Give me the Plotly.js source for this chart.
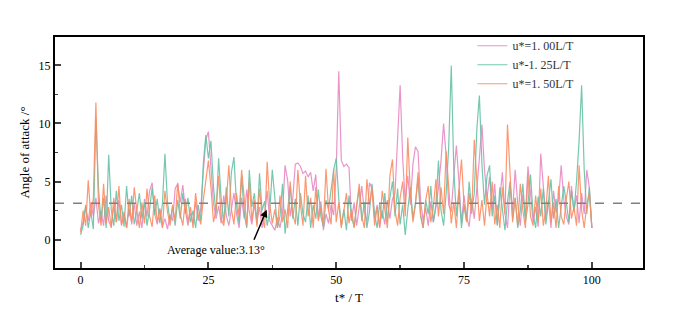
<!DOCTYPE html>
<html>
<head>
<meta charset="utf-8">
<script src="https://cdn.plot.ly/plotly-3.0.1.min.js"></script>
<style>
  html, body { margin: 0; padding: 0; background: #fff; }
  #chart { width: 692px; height: 321px; }
</style>
</head>
<body>
<div id="chart"></div>
<script>
const seriesNames = ["u*=1. 00L/T", "u*-1. 25L/T", "u*=1. 50L/T"];
const seriesColors = ["#e78ac3", "#66c2a5", "#fc8d62"];
const tStart = 0;
const tStep = 0.5;

const angleU100 = [
  0.8, 1.5, 2.8, 1.6, 3.2, 2.0, 3.6, 1.4, 2.5, 1.2, 3.8, 1.6, 1.1, 2.9, 1.5, 3.4, 1.3, 2.2, 1.0, 2.6,
  1.5, 3.1, 1.2, 2.4, 1.0, 3.5, 2.0, 4.2, 4.9, 2.2, 1.3, 2.7, 1.1, 1.8, 0.9, 2.1, 1.6, 4.4, 4.8, 3.2,
  4.7, 2.5, 1.2, 2.3, 1.4, 3.3, 1.6, 2.6, 5.8, 8.6, 9.3, 6.2, 3.1, 1.8, 2.9, 1.4, 3.8, 2.1, 1.2, 2.6,
  4.0, 2.2, 1.0, 3.6, 1.8, 4.3, 2.4, 1.3, 3.1, 1.6, 2.8, 1.0, 2.2, 4.2, 1.6, 1.2, 0.8, 1.9, 1.0, 2.3,
  6.4, 5.1, 2.0, 3.5, 6.5, 6.6, 6.3, 5.7, 5.9, 5.4, 5.8, 4.2, 5.6, 1.8, 3.3, 0.8, 2.2, 1.4, 3.0, 2.1,
  6.0, 14.5, 6.8, 6.3, 6.5, 6.2, 1.6, 3.2, 1.2, 2.8, 4.6, 2.4, 1.5, 4.9, 4.4, 1.8, 3.0, 1.1, 2.5, 1.3,
  3.4, 1.8, 3.5, 4.0, 8.5, 13.3, 7.0, 3.2, 5.5, 3.0, 6.5, 8.0, 7.6, 3.4, 1.6, 2.7, 1.2, 3.3, 1.5, 2.8,
  4.5, 6.8, 10.0, 7.2, 3.0, 2.4, 5.5, 8.1, 5.0, 1.4, 3.8, 2.0, 1.1, 3.5, 1.8, 4.2, 7.0, 9.9, 6.0, 3.6,
  5.4, 2.6, 4.8, 1.3, 3.3, 5.8, 2.2, 1.0, 4.6, 2.5, 6.0, 3.1, 1.2, 3.9, 2.0, 6.3, 4.0, 1.5, 2.8, 1.1,
  7.4, 4.5, 1.9, 3.4, 1.0, 4.2, 2.3, 3.5, 6.4, 3.5, 2.0, 1.3, 4.6, 2.5, 3.8, 1.4, 4.0, 2.2, 6.0, 4.5,
  1.0
];

const angleU125 = [
  0.4, 1.2, 3.0, 1.0, 2.4, 0.9, 10.5, 4.5, 1.5, 3.6, 1.0, 7.3, 2.6, 1.2, 4.2, 1.6, 3.0, 1.1, 4.6, 2.0,
  3.8, 1.3, 2.5, 4.0, 1.8, 3.2, 1.2, 2.6, 4.5, 2.1, 3.5, 1.4, 3.0, 7.4, 3.2, 1.6, 2.8, 1.2, 3.4, 1.8,
  4.0, 2.2, 3.6, 1.5, 2.5, 1.0, 3.0, 1.6, 6.5, 9.0, 7.0, 8.5, 4.5, 2.2, 7.0, 3.5, 1.5, 4.5, 2.0, 5.8,
  7.1, 3.0, 1.4, 5.5, 2.2, 1.0, 6.0, 2.8, 4.0, 1.3, 5.7, 2.5, 3.3, 1.2, 2.4, 6.0, 3.6, 1.0, 2.0, 4.8,
  0.5, 2.6, 4.6, 1.8, 3.5, 1.2, 4.0, 2.2, 1.5, 3.8, 1.0, 3.0, 1.8, 4.3, 2.0, 1.1, 3.4, 2.6, 4.2, 6.0,
  7.0, 3.5, 1.2, 2.6, 0.8, 3.8, 2.0, 1.1, 2.9, 4.4, 1.6, 3.2, 1.0, 2.4, 4.8, 2.2, 1.0, 3.1, 1.8, 4.0,
  1.5, 3.6, 5.0, 2.0, 4.4, 1.3, 3.0, 0.4, 2.6, 4.5, 1.8, 3.2, 5.2, 2.0, 1.0, 3.4, 2.2, 4.6, 1.5, 3.0,
  6.8, 2.5, 1.2, 4.0, 8.0, 15.0, 6.0, 2.0, 4.3, 1.0, 3.0, 1.6, 5.0, 2.4, 4.0, 9.5, 12.4, 6.5, 3.0, 5.5,
  6.4, 2.0, 3.8, 1.2, 4.5, 2.6, 0.8, 3.3, 5.0, 1.8, 3.6, 1.0, 2.5, 4.8, 1.5, 3.0, 5.6, 2.2, 1.0, 3.7,
  2.0, 4.4, 1.3, 3.2, 5.2, 1.8, 3.5, 1.0, 2.8, 4.6, 3.2, 1.5, 4.2, 2.4, 5.0, 8.5, 13.3, 6.0, 2.2, 4.5,
  1.0
];

const angleU150 = [
  0.6, 2.5, 1.2, 5.1, 2.0, 3.6, 11.8, 3.0, 1.2, 4.8, 1.4, 2.8, 1.0, 3.6, 1.5, 4.6, 1.2, 2.4, 1.0, 3.5,
  1.3, 4.5, 2.5, 1.0, 3.2, 1.4, 4.4, 2.0, 1.1, 3.8, 1.5, 2.6, 1.0, 4.2, 2.4, 1.2, 3.0, 1.6, 4.9, 2.2,
  1.2, 3.5, 1.5, 2.8, 1.0, 4.0, 2.2, 1.3, 3.4, 5.2, 6.8, 4.5, 1.5, 2.6, 5.5, 1.8, 1.2, 3.2, 6.4, 2.6,
  1.3, 4.0, 2.0, 6.0, 3.3, 1.2, 5.0, 1.6, 3.4, 1.1, 4.4, 2.0, 1.0, 6.7, 3.0, 1.4, 2.6, 1.0, 3.8, 1.5,
  2.6, 1.0, 5.0, 2.2, 1.3, 6.0, 3.0, 1.2, 5.5, 2.0, 3.6, 1.0, 4.5, 1.6, 2.8, 1.2, 6.1, 2.5, 1.3, 6.1,
  1.5, 3.2, 1.0, 2.4, 4.0, 1.4, 2.6, 1.0, 3.2, 4.8, 2.0, 1.0, 5.2, 3.0, 4.5, 1.2, 2.8, 1.0, 4.2, 2.4,
  1.0, 5.5, 6.9, 2.5, 1.2, 3.6, 5.0, 2.0, 8.8, 4.0, 1.5, 3.0, 5.8, 2.2, 1.0, 3.4, 4.6, 1.5, 2.8, 5.2,
  2.0, 4.5, 2.2, 7.6, 4.0, 1.4, 3.2, 1.0, 4.2, 6.9, 3.0, 1.5, 4.0, 2.2, 8.6, 4.5, 1.6, 3.4, 1.2, 4.0,
  2.0, 5.0, 1.3, 3.0, 1.0, 4.5, 2.2, 9.9, 5.0, 1.5, 3.6, 1.2, 4.8, 2.5, 1.0, 5.6, 2.0, 1.2, 3.8, 1.5,
  4.4, 1.2, 2.6, 5.5, 1.5, 3.2, 1.0, 4.6, 2.0, 1.3, 3.5, 5.0, 1.8, 2.8, 1.2, 6.4, 2.5, 1.0, 3.0, 4.0,
  1.0
];

const averageValue = 3.13;
const xTickVals = [0, 25, 50, 75, 100];
const yTickVals = [0, 5, 10, 15];

const serif = "Liberation Serif, Times New Roman, serif";

const traces = [angleU100, angleU125, angleU150].map((vals, i) => ({
  type: "scatter",
  mode: "lines",
  name: seriesNames[i],
  x0: tStart,
  dx: tStep,
  y: vals,
  line: { color: seriesColors[i], width: 1.2 },
  opacity: 0.9,
}));

const layout = {
  width: 692,
  height: 321,
  margin: { t: 37, r: 49, b: 53, l: 55 },
  paper_bgcolor: "#fff",
  plot_bgcolor: "#fff",
  font: { family: serif, size: 12, color: "#000" },
  showlegend: true,
  legend: {
    x: 0.71,
    y: 1.025,
    xanchor: "left",
    yanchor: "top",
    bgcolor: "rgba(0,0,0,0)",
    tracegroupgap: 0,
    font: { family: serif, size: 12, color: "#333" },
  },
  xaxis: {
    range: [-5, 110],
    tickvals: xTickVals,
    ticks: "inside",
    ticklen: 6,
    tickwidth: 2,
    minor: { ticks: "inside", dtick: 12.5, tick0: 0, ticklen: 3, tickwidth: 1.5 },
    showline: true,
    mirror: true,
    linewidth: 2,
    linecolor: "#000",
    showgrid: false,
    zeroline: false,
    title: { text: "t* / T", font: { family: serif, size: 13 }, standoff: 6 },
  },
  yaxis: {
    range: [-2.45, 17.45],
    tickvals: yTickVals,
    ticks: "inside",
    ticklen: 6,
    tickwidth: 2,
    minor: { ticks: "inside", dtick: 2.5, tick0: 0, ticklen: 3, tickwidth: 1.5 },
    showline: true,
    mirror: true,
    linewidth: 2,
    linecolor: "#000",
    showgrid: false,
    zeroline: false,
    title: { text: "Angle of attack /°", font: { family: serif, size: 13 }, standoff: 6 },
  },
  shapes: [
    {
      type: "line",
      xref: "paper",
      x0: 0,
      x1: 1,
      yref: "y",
      y0: averageValue,
      y1: averageValue,
      line: { color: "#808080", width: 1.3, dash: "dash" },
    },
  ],
  annotations: [
    {
      x: 26.4,
      y: -0.94,
      xref: "x",
      yref: "y",
      text: "Average value:" + averageValue + "°",
      showarrow: false,
      font: { family: serif, size: 12, color: "#000" },
    },
    {
      x: 36.4,
      y: 2.57,
      xref: "x",
      yref: "y",
      ax: 33.8,
      ay: -0.15,
      axref: "x",
      ayref: "y",
      text: "",
      showarrow: true,
      arrowhead: 2,
      arrowsize: 1,
      arrowwidth: 1.5,
      arrowcolor: "#000",
    },
  ],
};

Plotly.newPlot("chart", traces, layout, { displayModeBar: false, staticPlot: true });
</script>
</body>
</html>
